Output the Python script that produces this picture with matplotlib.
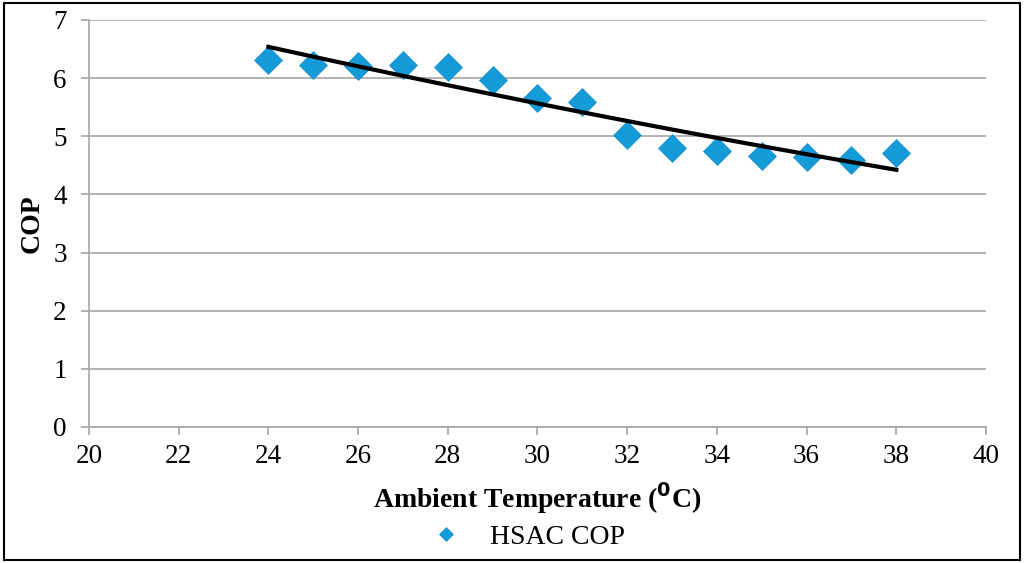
import numpy as np
import matplotlib.pyplot as plt
from matplotlib.patches import Rectangle

plt.rcParams['font.family'] = ['Liberation Serif', 'DejaVu Serif']

# data
temp = [24, 25, 26, 27, 28, 29, 30, 31, 32, 33, 34, 35, 36, 37, 38]
cop = [6.32, 6.23, 6.20, 6.23, 6.19, 5.97, 5.65, 5.59, 5.02, 4.80, 4.75, 4.66, 4.65, 4.60, 4.72]
x_ticks = list(range(20, 41, 2))
y_ticks = list(range(0, 8))

fig = plt.figure(figsize=(10.24, 5.63), dpi=100)
ax = fig.add_axes([0.0869, 0.2416, 0.8760, 0.7229])

# polynomial trend line (order 2), as Excel does
coef = np.polyfit(temp, cop, 2)
xt = np.linspace(min(temp), max(temp), 100)
ax.plot(xt, np.polyval(coef, xt), color='black', lw=3, zorder=3)

ax.plot(temp, cop, linestyle='none', marker='D', ms=13.8, color='#169BD9',
        markeredgecolor='#1a8fcc', markeredgewidth=0.5, label='HSAC COP', zorder=2)

ax.set_xlim(20, 40)
ax.set_ylim(0, 7)
ax.set_xticks(x_ticks)
ax.set_yticks(y_ticks)
ax.yaxis.grid(True, color='#a6a6a6', lw=1.2)
ax.set_axisbelow(True)
for s in ['top', 'right']:
    ax.spines[s].set_visible(False)
for s in ['left', 'bottom']:
    ax.spines[s].set_color('#a6a6a6')
    ax.spines[s].set_linewidth(1.2)
ax.tick_params(axis='both', colors='#a6a6a6', length=6, width=1.2, labelcolor='black',
               labelsize=19.5, direction='out', pad=6)
ax.tick_params(axis='y', pad=10)

ax.set_xlabel('Ambient Temperature ($\\mathbf{^{0}}$C)', fontsize=20, fontweight='bold', labelpad=8)
ax.set_ylabel('COP', fontsize=20, fontweight='bold', labelpad=6)

fig.legend(*ax.get_legend_handles_labels(), loc='center', bbox_to_anchor=(0.515, 0.046),
           frameon=False, fontsize=20, handletextpad=1.0, markerscale=0.55,
           borderpad=0, handlelength=1.2)

fig.patches.append(Rectangle((0.004, 0.006), 0.992, 0.988, transform=fig.transFigure,
                             fill=False, edgecolor='black', lw=1.5))

fig.savefig('out.png', dpi=100)
